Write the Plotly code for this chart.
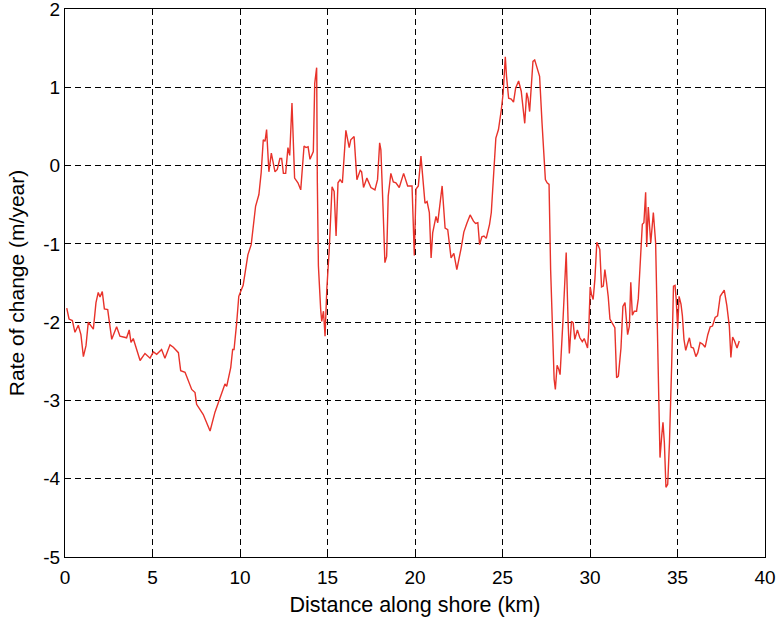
import plotly.graph_objects as go

distance_km = [
    0.1, 0.23, 0.42, 0.57, 0.76, 0.91, 1.05, 1.2, 1.33, 1.47, 1.62, 1.77, 1.9, 2.0, 2.13, 2.25, 2.44, 2.67, 2.95,
    3.14, 3.52, 3.67, 3.77, 3.9, 4.29, 4.57, 4.86, 5.05, 5.24, 5.52, 5.71, 6.0, 6.19, 6.48, 6.61, 6.86, 7.24,
    7.43, 7.52, 7.9, 8.1, 8.29, 8.57, 8.86, 9.14, 9.24, 9.47, 9.58, 9.66, 9.81, 9.93, 10.18, 10.45, 10.64,
    10.89, 11.08, 11.21, 11.33, 11.43, 11.52, 11.65, 11.79, 12.0, 12.13, 12.28, 12.38, 12.48, 12.61, 12.74,
    12.84, 12.97, 13.12, 13.31, 13.47, 13.66, 13.77, 13.89, 14.0, 14.19, 14.27, 14.38, 14.42, 14.48, 14.61,
    14.67, 14.77, 14.86, 14.96, 15.09, 15.26, 15.38, 15.49, 15.6, 15.72, 15.85, 16.05, 16.24, 16.33, 16.52,
    16.68, 16.87, 16.95, 17.06, 17.25, 17.48, 17.71, 17.86, 17.98, 18.05, 18.17, 18.28, 18.38, 18.47, 18.62,
    18.76, 18.91, 19.1, 19.35, 19.58, 19.83, 19.96, 20.06, 20.19, 20.34, 20.44, 20.57, 20.69, 20.82, 20.92,
    21.01, 21.2, 21.3, 21.55, 21.72, 21.87, 22.06, 22.22, 22.39, 22.64, 22.79, 22.96, 23.15, 23.34, 23.46,
    23.59, 23.69, 23.82, 23.94, 24.07, 24.26, 24.36, 24.51, 24.62, 24.77, 24.87, 24.93, 25.04, 25.16, 25.23,
    25.35, 25.5, 25.63, 25.75, 25.92, 26.07, 26.27, 26.38, 26.46, 26.55, 26.74, 26.84, 26.99, 27.12, 27.26,
    27.45, 27.55, 27.66, 27.75, 27.85, 27.95, 28.02, 28.12, 28.21, 28.29, 28.46, 28.64, 28.75, 28.82, 28.94,
    29.04, 29.13, 29.28, 29.42, 29.56, 29.67, 29.78, 29.86, 29.93, 30.01, 30.09, 30.18, 30.28, 30.39, 30.56,
    30.66, 30.76, 30.85, 30.95, 31.04, 31.14, 31.33, 31.42, 31.52, 31.62, 31.77, 31.88, 32.0, 32.15, 32.25,
    32.33, 32.42, 32.53, 32.66, 32.76, 32.85, 32.99, 33.08, 33.18, 33.24, 33.33, 33.47, 33.62, 33.75, 33.91,
    34.0, 34.1, 34.17, 34.25, 34.34, 34.44, 34.54, 34.67, 34.77, 34.86, 34.92, 35.01, 35.09, 35.2, 35.28,
    35.37, 35.47, 35.57, 35.68, 35.78, 35.91, 36.05, 36.16, 36.29, 36.43, 36.58, 36.73, 36.87, 37.0, 37.15,
    37.29, 37.44, 37.67, 37.82, 37.96, 38.05, 38.15, 38.26, 38.4, 38.53,
]

rate_m_per_year = [
    -1.82, -1.96, -1.98, -2.13, -2.04, -2.16, -2.44, -2.30, -2.0, -2.05, -2.09, -1.75, -1.62, -1.68, -1.61,
    -1.83, -1.84, -2.22, -2.06, -2.18, -2.2, -2.1, -2.26, -2.21, -2.49, -2.40, -2.46, -2.38, -2.41, -2.35,
    -2.46, -2.29, -2.32, -2.39, -2.62, -2.64, -2.86, -2.9, -3.05, -3.18, -3.28, -3.39, -3.15, -2.98, -2.79,
    -2.82, -2.58, -2.35, -2.35, -2.01, -1.67, -1.53, -1.14, -1.01, -0.52, -0.37, -0.09, 0.33, 0.31, 0.46,
    -0.08, 0.16, -0.08, -0.05, 0.09, 0.09, -0.10, -0.10, 0.23, 0.13, 0.80, -0.16, -0.22, -0.31, 0.25, 0.23,
    0.24, 0.08, 0.18, 1.05, 1.25, -0.22, -1.28, -1.84, -1.99, -1.86, -2.18, -1.58, -1.11, -0.27, -0.33,
    -0.90, -0.22, -0.18, -0.22, 0.45, 0.23, 0.33, 0.37, -0.18, -0.06, -0.08, -0.28, -0.16, -0.28, -0.31,
    -0.18, 0.29, 0.20, -0.52, -1.24, -1.16, -0.39, -0.10, -0.21, -0.22, -0.28, -0.10, -0.26, -0.26, -1.15,
    -0.30, -0.26, 0.12, -0.18, -0.48, -0.46, -0.60, -1.18, -0.86, -0.65, -0.73, -0.26, -0.80, -0.82, -1.18,
    -1.12, -1.33, -1.05, -0.85, -0.74, -0.63, -0.71, -0.74, -0.73, -1.01, -0.91, -0.90, -0.93, -0.75, -0.60,
    -0.05, 0.35, 0.46, 0.67, 0.71, 0.93, 1.39, 1.14, 0.86, 0.85, 0.81, 0.99, 1.08, 0.95, 0.54, 0.93, 0.86,
    0.69, 1.33, 1.35, 1.25, 1.14, 0.54, -0.18, -0.22, -0.24, -1.33, -1.96, -2.73, -2.86, -2.55, -2.60,
    -2.67, -1.96, -1.11, -2.01, -2.40, -1.99, -2.01, -2.22, -2.10, -2.20, -2.25, -2.21, -2.28, -2.33, -2.09,
    -1.55, -1.65, -1.71, -1.45, -0.98, -1.07, -1.55, -1.54, -1.33, -1.50, -1.67, -1.96, -2.03, -2.07, -2.71,
    -2.69, -2.33, -1.80, -1.75, -2.16, -2.05, -1.49, -1.91, -1.86, -1.86, -1.70, -1.33, -0.75, -0.73, -0.34,
    -1.04, -0.53, -0.99, -0.60, -0.99, -2.98, -3.73, -3.45, -3.28, -3.54, -4.11, -4.07, -3.54, -2.52, -1.54,
    -1.53, -1.69, -2.09, -1.67, -1.77, -1.92, -2.22, -2.36, -2.28, -2.20, -2.32, -2.33, -2.44, -2.39, -2.26,
    -2.28, -2.32, -2.16, -2.06, -2.05, -1.94, -1.92, -1.67, -1.59, -1.79, -2.05, -2.45, -2.19, -2.24, -2.33,
    -2.24,
]

x_ticks = [0, 5, 10, 15, 20, 25, 30, 35, 40]
y_ticks = [-5, -4, -3, -2, -1, 0, 1, 2]
y_tick_labels = ["-5", "-4", "-3", "-2", "-1", "0", "1", "2"]

fig = go.Figure()
fig.add_trace(go.Scatter(
    x=distance_km, y=rate_m_per_year, mode="lines",
    line=dict(color="#e8322a", width=1.4), showlegend=False,
))

font_family = "Liberation Sans, Arial, sans-serif"
axis_common = dict(
    showline=True, linecolor="black", linewidth=1, mirror="allticks",
    ticks="inside", ticklen=5, tickcolor="black",
    showgrid=True, gridcolor="black", gridwidth=1, griddash="6px,4px",
    zeroline=False, ticklabeloverflow="allow",
    tickfont=dict(family=font_family, size=19, color="black"),
)

fig.update_layout(
    width=778, height=619,
    margin=dict(l=65, r=13, t=9, b=62, autoexpand=False),
    paper_bgcolor="white", plot_bgcolor="white",
    font=dict(family=font_family, color="black"),
    xaxis=dict(
        range=[0, 40], tickvals=x_ticks, ticklabelstandoff=3, automargin=False,
        title=dict(text="Distance along shore (km)", font=dict(size=21.5), standoff=10),
        **axis_common,
    ),
    yaxis=dict(
        range=[-5, 2], tickvals=y_ticks, ticktext=y_tick_labels, automargin=True,
        title=dict(text="Rate of change (m/year)", font=dict(size=21), standoff=12),
        **axis_common,
    ),
)

fig.write_html(
    "out.html",
    config={"displayModeBar": False},
    post_script="document.body.style.margin='0';document.body.style.overflow='hidden';",
)
